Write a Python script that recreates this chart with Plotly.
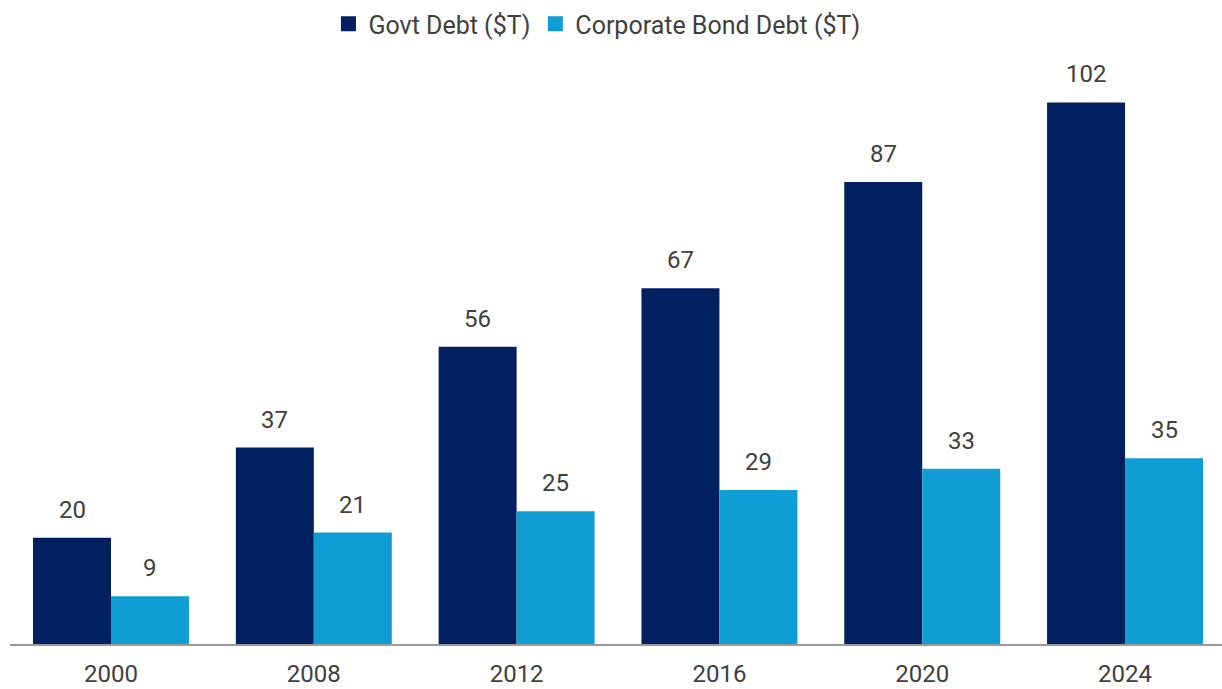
import plotly.graph_objects as go

years = ["2000", "2008", "2012", "2016", "2020", "2024"]
govt_debt = [20, 37, 56, 67, 87, 102]
corp_debt = [9, 21, 25, 29, 33, 35]
series_names = ["Govt Debt ($T)", "Corporate Bond Debt ($T)"]

NAVY = "#00205f"
LIGHT = "#0f9dd4"
TEXT = "#404040"
FONT = "Roboto"

fig = go.Figure()
for name, vals, col in ((series_names[0], govt_debt, NAVY),
                        (series_names[1], corp_debt, LIGHT)):
    fig.add_trace(go.Bar(name=name, x=years, y=vals, showlegend=False,
                         marker=dict(color=col, line=dict(width=0))))
    # legend entry with a larger square swatch
    fig.add_trace(go.Scatter(name=name, x=[None], y=[None], mode="markers",
                             marker=dict(symbol="square", size=15, color=col),
                             showlegend=True))

# value labels above each bar (x given as category index)
half = 39
for i, (g, c) in enumerate(zip(govt_debt, corp_debt)):
    for val, shift in ((g, -half), (c, half)):
        fig.add_annotation(x=i, y=val, text=str(val), showarrow=False,
                           xref="x", yref="y", yanchor="bottom",
                           xshift=shift, yshift=12,
                           font=dict(family=FONT, size=24, color=TEXT))

fig.update_layout(
    width=1222, height=689,
    margin=dict(l=10, r=0, t=60, b=45, autoexpand=False),
    paper_bgcolor="white", plot_bgcolor="white",
    barmode="group", bargap=0.231, bargroupgap=0,
    font=dict(family=FONT, size=24, color=TEXT),
    legend=dict(orientation="h", xref="container", yref="container",
                x=0.4885, xanchor="center", y=0.965, yanchor="middle",
                font=dict(family=FONT, size=25, color=TEXT),
                itemwidth=30, traceorder="normal"),
    xaxis=dict(type="category", range=[-0.498, 5.478], automargin=False,
               showline=True, linecolor="#999999", linewidth=2,
               ticks="outside", ticklen=7, tickcolor="rgba(0,0,0,0)",
               tickfont=dict(family=FONT, size=24, color=TEXT),
               showgrid=False, zeroline=False),
    yaxis=dict(range=[0, 110], visible=False, showgrid=False, zeroline=False,
               automargin=False),
)

fig.write_html("out.html")
